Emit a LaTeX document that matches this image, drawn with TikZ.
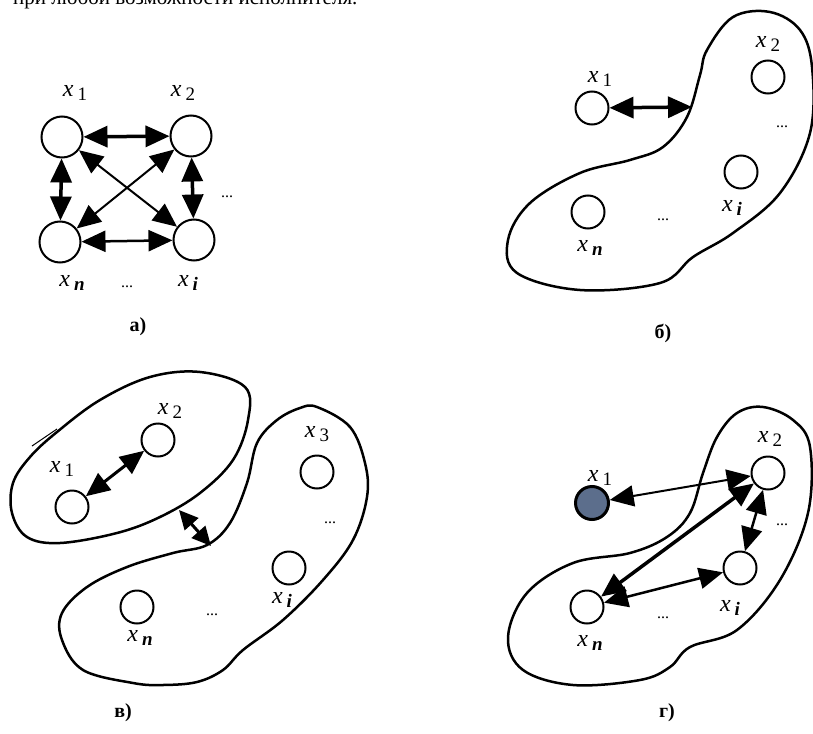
\documentclass[tikz,border=0pt]{standalone}
\usepackage{fontspec}
\setmainfont{Liberation Serif}
\usetikzlibrary{arrows.meta}
\definecolor{nodeblue}{RGB}{92,110,140}
\newcommand{\xlab}[1]{{\fontsize{24}{24}\selectfont\itshape x}\hspace{4pt}\raisebox{-4pt}{\fontsize{19}{19}\selectfont #1}}

\begin{document}
\begin{tikzpicture}[x=1pt, y=-1pt,
    dbl/.style={{Triangle[length=24pt 0 0,width=21pt 0 0]}-{Triangle[length=24pt 0 0,width=21pt 0 0]}},
    dblshort/.style={{Triangle[length=19pt 0 0,width=18pt 0 0]}-{Triangle[length=19pt 0 0,width=18pt 0 0]}},
    vtx/.style={circle, draw, line width=2pt, minimum size=33pt, inner sep=0pt},
    big/.style={minimum size=41pt},
    blob/.style={line width=2.5pt, line join=round},
    lbl/.style={inner sep=0pt},
    dots/.style={inner sep=0pt, font=\fontsize{16}{16}\selectfont},
    panel/.style={inner sep=0pt, font=\fontsize{20}{20}\selectfont\bfseries}]
    \useasboundingbox (0,0) rectangle (813,733);

    % Обрезанная строка текста сверху
    \begin{scope}
        \clip (0,0) rectangle (813,733);
        \node[anchor=base west, inner sep=0pt, font=\fontsize{21}{21}\selectfont] (top) at (13,5) {при любой возможности исполнителя.};
    \end{scope}

    % а) полный граф
    \node[vtx, big] (a1) at (62,137) {};
    \node[vtx, big] (a2) at (191,136) {};
    \node[vtx, big] (an) at (60,242) {};
    \node[vtx, big] (ai) at (194,240) {};
    \draw[dbl, line width=3.5pt] (a1) -- (a2);
    \draw[dbl, line width=3.5pt] (a1) -- (an);
    \draw[dbl, line width=3.5pt] (a2) -- (ai);
    \draw[dbl, line width=2.5pt] (an) -- (ai);
    \draw[dbl, line width=2pt] (a1) -- (ai);
    \draw[dbl, line width=2pt] (a2) -- (an);
    \node[lbl] (la1) at (75,93) {\xlab{1}};
    \node[lbl] (la2) at (183,93) {\xlab{2}};
    \node[lbl] (lan) at (72,283) {\xlab{\itshape\bfseries n}};
    \node[lbl] (lai) at (188,283) {\xlab{\itshape\bfseries i}};
    \node[dots] (da1) at (227,197) {...};
    \node[dots] (da2) at (127,287) {...};
    \node[panel] (pa) at (138,327) {а)};

    % б) одна вершина вне группы
    \draw[blob] plot[smooth cycle, tension=0.6] coordinates {(770,12) (800,30) (812,67) (810,133) (780,193) (733,233) (693,257) (660,283) (580,290) (517,273) (508,240) (530,203) (580,173) (630,160) (663,147) (687,117) (700,75) (707,50) (733,17)};
    \node[vtx] (b1) at (592,108) {};
    \node[vtx] (b2) at (768,77) {};
    \node[vtx] (bi) at (741,172) {};
    \node[vtx] (bn) at (588,212) {};
    \coordinate (bB) at (692,107);
    \draw[dbl, line width=3.5pt] (b1) -- (bB);
    \node[lbl] (lb1) at (600,79) {\xlab{1}};
    \node[lbl] (lb2) at (768,44) {\xlab{2}};
    \node[lbl] (lbi) at (732,208) {\xlab{\itshape\bfseries i}};
    \node[lbl] (lbn) at (590,248) {\xlab{\itshape\bfseries n}};
    \node[dots] (db1) at (782,127) {...};
    \node[dots] (db2) at (663,220) {...};
    \node[panel] (pb) at (663,333) {б)};

    % в) две группы
    \draw[blob] plot[smooth cycle, tension=0.6] coordinates {(200,372) (245,387) (248,420) (233,460) (200,493) (160,517) (117,533) (60,543) (27,537) (12,513) (13,483) (30,457) (57,432) (100,400) (150,377)};
    \draw[line width=1pt] (32,446) -- (57,429);
    \draw[blob] plot[smooth cycle, tension=0.6] coordinates {(317,407) (350,427) (365,463) (367,497) (353,540) (323,580) (283,620) (243,650) (223,670) (197,682) (163,685) (133,683) (83,670) (62,640) (62,613) (87,587) (127,567) (173,553) (207,545) (230,523) (247,483) (257,443) (277,420) (300,408)};
    \node[vtx] (v1) at (72,507) {};
    \node[vtx] (v2) at (158,440) {};
    \node[vtx] (v3) at (317,472) {};
    \node[vtx] (vi) at (289,568) {};
    \node[vtx] (vn) at (137,607) {};
    \draw[dbl, line width=3pt] (v1) -- (v2);
    \coordinate (vG1) at (179,510);
    \coordinate (vG2) at (211,546);
    \draw[dblshort, line width=3pt] (vG1) -- (vG2);
    \node[lbl] (lv1) at (62,469) {\xlab{1}};
    \node[lbl] (lv2) at (170,411) {\xlab{2}};
    \node[lbl] (lv3) at (317,434) {\xlab{3}};
    \node[lbl] (lvi) at (282,600) {\xlab{\itshape\bfseries i}};
    \node[lbl] (lvn) at (140,638) {\xlab{\itshape\bfseries n}};
    \node[dots] (dv1) at (330,523) {...};
    \node[dots] (dv2) at (212,615) {...};
    \node[panel] (pv) at (123,713) {в)};

    % г) связи через x2
    \draw[blob] plot[smooth cycle, tension=0.6] coordinates {(763,407) (793,420) (810,447) (808,513) (780,580) (737,630) (690,647) (670,667) (640,680) (573,685) (523,670) (508,637) (527,593) (573,563) (630,553) (667,537) (690,513) (703,473) (717,437) (737,413)};
    \node[vtx, fill=nodeblue, line width=3pt] (g1) at (592,503) {};
    \node[vtx, fill=white] (g2) at (768,473) {};
    \node[vtx, fill=white] (gi) at (740,568) {};
    \node[vtx, fill=white] (gn) at (587,607) {};
    \draw[dbl, line width=2pt] (g1) -- (g2);
    \draw[dbl, line width=3.5pt] (g2) -- (gn);
    \draw[dbl, line width=2.5pt] (gn) -- (gi);
    \draw[dbl, line width=2.5pt] (g2) -- (gi);
    \node[lbl] (lg1) at (600,478) {\xlab{1}};
    \node[lbl] (lg2) at (770,439) {\xlab{2}};
    \node[lbl] (lgi) at (730,608) {\xlab{\itshape\bfseries i}};
    \node[lbl] (lgn) at (590,643) {\xlab{\itshape\bfseries n}};
    \node[dots] (dg1) at (782,525) {...};
    \node[dots] (dg2) at (663,618) {...};
    \node[panel] (pg) at (667,713) {г)};
\end{tikzpicture}
\end{document}
